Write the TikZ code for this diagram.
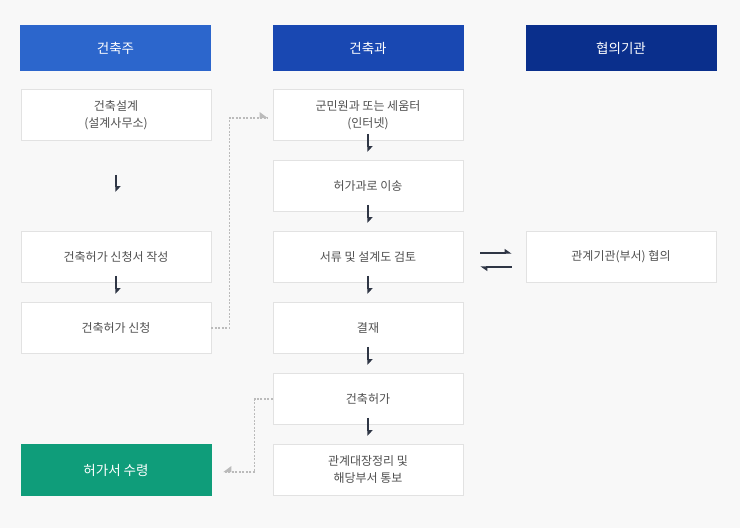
\documentclass[tikz,border=0pt]{standalone}
\usepackage{fontspec}
\setmainfont{Noto Sans CJK KR}
\usetikzlibrary{arrows.meta}

\definecolor{pagebg}{HTML}{F8F8F8}
\definecolor{boxline}{HTML}{E2E2E2}
\definecolor{boxtext}{HTML}{505050}
\definecolor{headA}{HTML}{2C66CC}
\definecolor{headB}{HTML}{1948B2}
\definecolor{headC}{HTML}{0A2F8C}
\definecolor{doneGreen}{HTML}{0F9D7A}
\definecolor{flowdark}{HTML}{2F3645}
\definecolor{dotgray}{HTML}{BBBBBB}

\begin{document}
\begin{tikzpicture}[x=1pt, y=-1pt]
			\tikzstyle{head}    = [minimum width=191pt, minimum height=46pt, inner sep=0pt, text=white, font=\fontsize{13.5}{16}\selectfont]
			\tikzstyle{box}     = [draw=boxline, fill=white, line width=0.8pt, minimum width=190pt, minimum height=51pt, inner sep=0pt, align=center, text=boxtext, font=\fontsize{12}{17}\selectfont]
			\tikzstyle{done}    = [box, draw=doneGreen, fill=doneGreen, text=white, font=\fontsize{13.5}{16}\selectfont]
			\tikzstyle{flow}    = [draw=flowdark, line width=1.7pt, -{Triangle[left, length=5pt, width=9pt]}]
			\tikzstyle{swap}    = [draw=flowdark, line width=1.3pt, -{Triangle[left, length=6pt, width=8pt]}]
			\tikzstyle{hint}    = [draw=dotgray, line width=1.1pt, dash pattern=on 2pt off 1.5pt]

			\fill[pagebg] (0,0) rectangle (740,528);
			\useasboundingbox (0,0) rectangle (740,528);

%			column headers
			\node[head, fill=headA] (owner)  at (115.5,48) {건축주};
			\node[head, fill=headB] (dept)   at (368,48)   {건축과};
			\node[head, fill=headC] (agency) at (621,48)   {협의기관};

			\foreach \name/\x/\y/\text in {design/116/115/{건축설계\\(설계사무소)}, write/116/257/{건축허가 신청서 작성}, apply/116/328/{건축허가 신청},
				civil/368/115/{군민원과 또는 세움터\\(인터넷)}, move/368/186/{허가과로 이송}, review/368/257/{서류 및 설계도 검토}, sign/368/328/{결재}, permit/368/399/{건축허가}, ledger/368/470/{관계대장정리 및\\해당부서 통보},
				consult/621/257/{관계기관(부서) 협의}}
				\node[box] (\name) at (\x, \y) {\text};

			\node[done] (receive) at (116,470) {허가서 수령};

			\draw[flow] ([yshift=-34pt]design.south) -- ++(0,17);
			\foreach \from in {write, civil, move, review, sign, permit}
				\draw[flow] ([yshift=7pt]\from.south) -- ++(0,18);

			\draw[swap] ([xshift=17pt, yshift=4pt]review.east) -- ([xshift=-14pt, yshift=4pt]consult.west);
			\draw[swap] ([xshift=-14pt, yshift=-10pt]consult.west) -- ([xshift=17pt, yshift=-10pt]review.east);

			\draw[hint] (apply.east) -- ++(18,0) |- ([xshift=-5pt, yshift=-3pt]civil.west);
			\fill[dotgray] ([xshift=-5pt, yshift=-3pt]civil.west) -- ++(-8,0) -- ++(0,-6) -- cycle;
			\draw[hint] (permit.west) -- ++(-18,0) |- ([xshift=12pt, yshift=-2pt]receive.east);
			\fill[dotgray] ([xshift=12pt, yshift=-2pt]receive.east) -- ++(8,0) -- ++(0,-6) -- cycle;

		\end{tikzpicture}
\end{document}
